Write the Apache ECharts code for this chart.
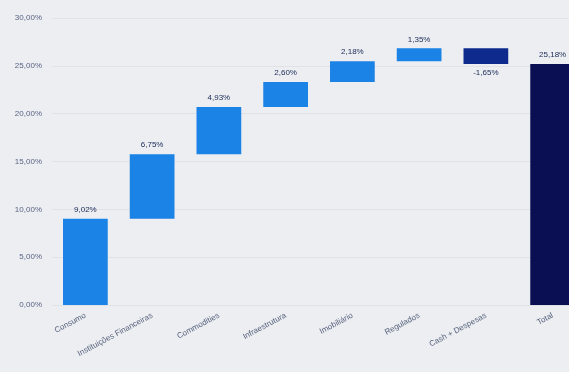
<!DOCTYPE html>
<html>
<head>
<meta charset="utf-8">
<script src="https://cdn.jsdelivr.net/npm/echarts@6/dist/echarts.min.js"></script>
<style>
html,body{margin:0;padding:0;background:#eceef2;}
#main{width:569px;height:372px;}
</style>
</head>
<body>
<div id="main"></div>
<script>
var categories = ['Consumo', 'Instituições Financeiras', 'Commodities', 'Infraestrutura', 'Imobiliário', 'Regulados', 'Cash + Despesas', 'Total'];
var values = [9.02, 6.75, 4.93, 2.60, 2.18, 1.35, -1.65, 25.18];
var yTicks = [0, 5, 10, 15, 20, 25, 30];

// base invisivel + barra visivel
var base = [], visible = [];
var acc = 0;
for (var i = 0; i < values.length; i++) {
	if (i == values.length - 1) {
		base.push(0);
		visible.push(values[i]);
	} else if (values[i] >= 0) {
		base.push(acc);
		visible.push(values[i]);
		acc += values[i];
	} else {
		acc += values[i];
		base.push(acc);
		visible.push(-values[i]);
	}
}
var colors = ['#1b82e6', '#1b82e6', '#1b82e6', '#1b82e6', '#1b82e6', '#1b82e6', '#0d2a8c', '#0a0e52'];

function fmt(v) { return v.toFixed(2).replace('.', ',') + '%'; }

echarts.init(document.getElementById('main')).setOption({
	backgroundColor: '#eceef2',
	animation: false,
	grid: { left: 52, top: 18, width: 534, bottom: 67, outerBoundsMode: 'none', containLabel: false },
	xAxis: {
		type: 'category',
		data: categories,
		axisLine: { show: false },
		axisTick: { show: false },
		axisLabel: { rotate: 28, fontSize: 8, color: '#55607a', interval: 0, margin: 10 }
	},
	yAxis: {
		type: 'value',
		min: yTicks[0],
		max: yTicks[yTicks.length - 1],
		interval: 5,
		axisLabel: { fontSize: 8, color: '#5a6585', margin: 10, formatter: function (v) { return v.toFixed(2).replace('.', ',') + '%'; } },
		splitLine: { lineStyle: { color: '#e0e2e8' } }
	},
	series: [{
		type: 'bar',
		stack: 'w',
		data: base,
		itemStyle: { color: 'transparent' },
		silent: true
	}, {
		type: 'bar',
		stack: 'w',
		barWidth: '67%',
		data: visible.map(function (v, i) {
			return {
				value: v,
				itemStyle: { color: colors[i] },
				label: { position: values[i] < 0 ? 'bottom' : 'top' }
			};
		}),
		label: {
			show: true,
			fontSize: 8,
			color: '#1a2a55',
			formatter: function (p) { return fmt(values[p.dataIndex]); }
		}
	}]
});
</script>
</body>
</html>
